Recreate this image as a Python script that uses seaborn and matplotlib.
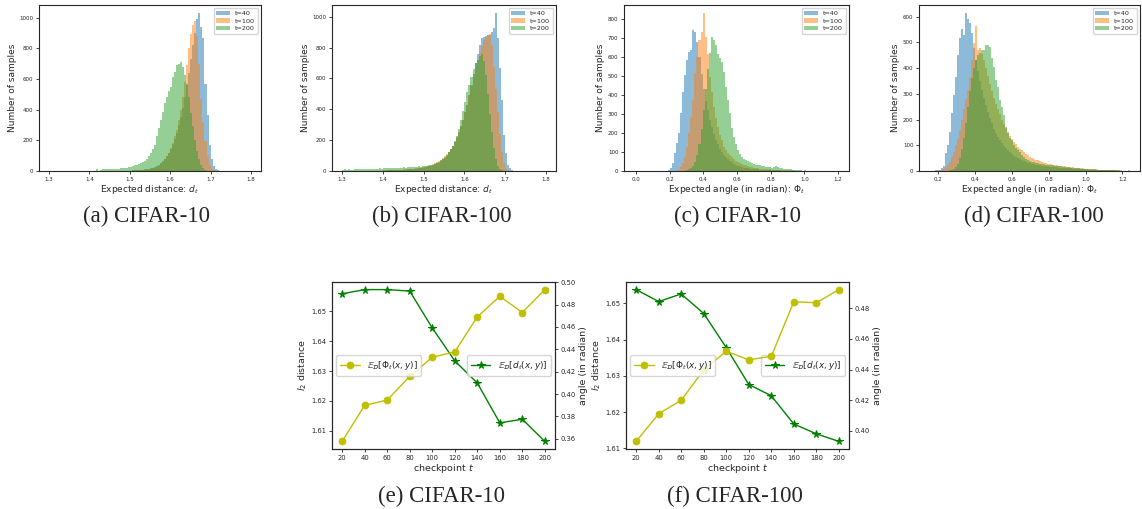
import numpy as np
import pandas as pd
import matplotlib
matplotlib.use("Agg")
import matplotlib.pyplot as plt
from matplotlib.ticker import MultipleLocator
import seaborn as sns

sns.set_style("ticks")
plt.rcParams['font.family'] = ['DejaVu Sans']
plt.rcParams['mathtext.fontset'] = 'dejavusans'
plt.rcParams['axes.edgecolor'] = '0.15'
plt.rcParams['axes.linewidth'] = 0.8

T_LABELS = ['t=40', 't=100', 't=200']
COLORS = ['C0', 'C1', 'C2']

# ---- histogram counts (each list starts at the given bin edge) ----
# (a) CIFAR-10, expected distance, bin width 0.005
DIST_W = 0.005
a_t40_from = 1.500
a_t40 = [3, 4, 4, 5, 6, 7, 8, 10, 12, 14,
         17, 21, 26, 32, 40, 50, 62, 78, 95, 118,
         145, 175, 210, 250, 300, 350, 410, 480, 560, 640,
         730, 820, 900, 990, 1030, 940, 865, 565, 365, 170,
         80, 33, 14, 5, 2]
a_t100_from = 1.500
a_t100 = [3, 3, 4, 4, 5, 6, 7, 8, 10, 12,
          15, 18, 22, 28, 35, 45, 58, 75, 95, 120,
          150, 185, 225, 270, 330, 400, 480, 580, 690, 800,
          890, 950, 975, 880, 700, 470, 320, 195, 95, 40,
          12, 4]
a_t200_from = 1.415
a_t200 = [15, 3, 5, 10, 12, 10, 12, 13, 12, 14,
          15, 14, 17, 18, 20, 22, 25, 28, 32, 36,
          40, 46, 52, 60, 68, 80, 95, 120, 145, 170,
          225, 278, 330, 387, 440, 485, 520, 550, 615, 648,
          690, 700, 713, 680, 626, 570, 480, 380, 290, 200,
          130, 75, 40, 20, 8, 3]

# (b) CIFAR-100, expected distance, bin width 0.005
b_t40_from = 1.400
b_t40 = [3, 3, 4, 4, 5, 5, 6, 6, 7, 7,
         8, 9, 10, 11, 12, 13, 15, 17, 19, 22,
         25, 28, 32, 36, 40, 46, 52, 60, 70, 80,
         92, 105, 120, 140, 160, 185, 215, 250, 290, 330,
         380, 430, 490, 560, 630, 700, 760, 820, 860, 870,
         875, 880, 880, 900, 930, 1025, 860, 665, 460, 233,
         115, 39, 17, 5, 2]
b_t100_from = 1.400
b_t100 = [4, 4, 5, 5, 6, 6, 7, 8, 8, 9,
          10, 11, 12, 13, 14, 16, 18, 20, 22, 25,
          28, 31, 35, 40, 45, 50, 56, 63, 72, 82,
          95, 110, 125, 145, 165, 190, 220, 250, 290, 330,
          380, 430, 490, 550, 610, 670, 720, 770, 810, 850,
          870, 880, 890, 820, 680, 530, 380, 240, 120, 50,
          15, 5]
b_t200_from = 1.300
b_t200 = [8, 10, 9, 10, 8, 9, 10, 11, 10, 12,
          11, 13, 14, 13, 15, 14, 16, 15, 17, 16,
          18, 17, 19, 18, 20, 19, 21, 20, 22, 21,
          23, 22, 25, 24, 26, 28, 27, 30, 29, 32,
          35, 30, 38, 35, 42, 45, 50, 55, 62, 75,
          85, 100, 120, 140, 165, 195, 230, 270, 330, 390,
          450, 510, 560, 610, 660, 700, 720, 745, 758, 710,
          620, 500, 370, 250, 150, 80, 35, 12, 4]

# (c) CIFAR-10, expected angle, bin width 0.012
ANG10_W = 0.012
c_t40_from = 0.180
c_t40 = [1, 5, 15, 40, 93, 146, 198, 304, 418, 505,
         584, 628, 637, 742, 733, 680, 600, 510, 430, 370,
         320, 270, 230, 195, 165, 140, 118, 100, 85, 72,
         62, 53, 45, 39, 33, 28, 24, 21, 18, 16,
         14, 12, 11, 10, 9, 8, 7, 6, 6, 5,
         5, 4, 4, 4, 3, 3, 3, 2, 2, 2,
         2, 1, 1, 1, 1, 1]
c_t100_from = 0.252
c_t100 = [10, 23, 40, 75, 128, 198, 286, 374, 514, 600,
          690, 733, 833, 707, 619, 496, 418, 339, 277, 233,
          190, 163, 128, 110, 95, 82, 72, 63, 55, 48,
          42, 37, 33, 29, 26, 23, 20, 18, 16, 14,
          13, 12, 11, 10, 9, 8, 7, 7, 6, 6,
          5, 5, 4, 4, 3, 3, 3, 2, 2, 2,
          1, 1, 1, 1, 1]
c_t200_from = 0.300
c_t200 = [3, 8, 15, 28, 50, 85, 140, 220, 320, 430,
          540, 620, 707, 690, 663, 619, 593, 575, 523, 444,
          374, 304, 225, 181, 140, 110, 90, 75, 65, 58,
          52, 45, 40, 37, 34, 32, 29, 26, 24, 22,
          21, 20, 18, 20, 24, 22, 18, 14, 12, 10,
          9, 8, 7, 6, 5, 4, 3, 2, 5, 1,
          1, 1, 0, 0, 0, 1, 0, 0, 0, 0,
          0, 0, 0, 0, 1]

# (d) CIFAR-100, expected angle, bin width 0.0109
ANG100_W = 0.0109
d_t40_from = 0.15 + 3 * 0.0109
d_t40 = [2, 3, 5, 10, 19, 69, 101, 153, 224, 295,
         367, 451, 516, 554, 528, 615, 593, 574, 535, 480,
         430, 390, 350, 315, 285, 255, 230, 205, 185, 165,
         148, 133, 120, 108, 98, 88, 80, 72, 66, 60,
         55, 50, 46, 42, 39, 36, 33, 31, 29, 27,
         25, 24, 22, 21, 20, 19, 18, 17, 16, 15,
         14, 13, 13, 12, 11, 11, 10, 10, 9, 9,
         8, 8, 7, 7, 6, 6, 5, 5, 5, 4,
         4, 4, 3, 3, 3, 3, 2, 2, 2, 2,
         1, 1, 1, 1, 1, 1, 2]
d_t100_from = 0.15 + 5 * 0.0109
d_t100 = [2, 4, 8, 15, 23, 35, 55, 75, 100, 130,
          160, 200, 240, 280, 315, 367, 431, 496, 563, 470,
          477, 457, 430, 400, 370, 340, 310, 285, 260, 240,
          220, 200, 182, 166, 150, 137, 125, 114, 104, 95,
          87, 80, 73, 67, 61, 56, 52, 48, 44, 41,
          38, 35, 33, 31, 29, 27, 25, 24, 22, 21,
          20, 19, 18, 17, 16, 15, 14, 13, 12, 11,
          10, 10, 9, 8, 8, 7, 7, 6, 6, 5,
          5, 4, 4, 4, 3, 3, 3, 2, 2, 2,
          2, 1, 1, 1, 1]
d_t200_from = 0.15 + 10 * 0.0109
d_t200 = [2, 4, 8, 15, 28, 50, 85, 130, 185, 250,
          310, 360, 400, 430, 450, 460, 470, 470, 490, 490,
          483, 438, 405, 354, 328, 276, 250, 218, 172, 146,
          130, 120, 100, 88, 82, 72, 62, 56, 48, 43,
          38, 36, 34, 32, 30, 29, 27, 26, 25, 24,
          23, 22, 21, 20, 19, 18, 17, 16, 15, 14,
          13, 12, 11, 10, 10, 9, 9, 8, 8, 7,
          7, 6, 6, 5, 5, 5, 4, 4, 4, 3,
          3, 3, 2, 2, 2, 1, 1, 1, 1, 1]

# ---- checkpoint curves ----
checkpoints = [20, 40, 60, 80, 100, 120, 140, 160, 180, 200]
e_dist = [1.6558, 1.6572, 1.6572, 1.6567, 1.6444, 1.6334, 1.6260, 1.6127, 1.6139, 1.6065]
e_angle = [0.3576, 0.3898, 0.3946, 0.4157, 0.4329, 0.4377, 0.4690, 0.4874, 0.4729, 0.4934]
f_dist = [1.6538, 1.6505, 1.6526, 1.6472, 1.6378, 1.6276, 1.6245, 1.6167, 1.6140, 1.6119]
f_angle = [0.3932, 0.4112, 0.4200, 0.4398, 0.4519, 0.4464, 0.4486, 0.4842, 0.4835, 0.4921]

W, H = 1142, 509
fig = plt.figure(figsize=(W / 100, H / 100), dpi=100)


def px_axes(left, top, right, bottom):
    return fig.add_axes([left / W, 1 - bottom / H, (right - left) / W, (bottom - top) / H])


def style_ticks(ax, size):
    ax.tick_params(labelsize=size, length=2.5, width=0.6, pad=1.5, colors='0.15')


def hist_panel(ax, width, series, xlim, xstep, ystep, xlabel):
    for (start, counts), lab, col in zip(series, T_LABELS, COLORS):
        counts = np.asarray(counts, float)
        edges = start + width * np.arange(len(counts) + 1)
        df = pd.DataFrame({'value': edges[:-1] + width / 2, 'count': counts})
        sns.histplot(data=df, x='value', weights='count', bins=list(edges), color=col,
                     alpha=0.5, linewidth=0, label=lab, ax=ax)
    ax.set_xlim(*xlim)
    ax.xaxis.set_major_locator(MultipleLocator(xstep))
    ax.yaxis.set_major_locator(MultipleLocator(ystep))
    ax.set_xlabel(xlabel, fontsize=6.5, labelpad=1)
    ax.set_ylabel('Number of samples', fontsize=6.5, labelpad=2)
    style_ticks(ax, 4.0)
    ax.legend(loc='upper right', fontsize=4.6, handlelength=2.2, borderpad=0.4,
              labelspacing=0.3, framealpha=0.8)


ax_a = px_axes(39, 5, 261, 171)
hist_panel(ax_a, DIST_W, [(a_t40_from, a_t40), (a_t100_from, a_t100), (a_t200_from, a_t200)],
           (1.275, 1.825), 0.1, 200, r'Expected distance: $d_t$')
ax_b = px_axes(332, 5, 556, 171)
hist_panel(ax_b, DIST_W, [(b_t40_from, b_t40), (b_t100_from, b_t100), (b_t200_from, b_t200)],
           (1.275, 1.825), 0.1, 200, r'Expected distance: $d_t$')
ax_c = px_axes(624, 5, 849, 171)
hist_panel(ax_c, ANG10_W, [(c_t40_from, c_t40), (c_t100_from, c_t100), (c_t200_from, c_t200)],
           (-0.07, 1.265), 0.2, 100, r'Expected angle (in radian): $\Phi_t$')
ax_d = px_axes(919, 5, 1140, 171)
hist_panel(ax_d, ANG100_W, [(d_t40_from, d_t40), (d_t100_from, d_t100), (d_t200_from, d_t200)],
           (0.096, 1.295), 0.2, 100, r'Expected angle (in radian): $\Phi_t$')


def curve_panel(ax, dist, angle, astep):
    ax2 = ax.twinx()
    sns.lineplot(x=checkpoints, y=dist, ax=ax, color='g', marker='*', markersize=5.5,
                 markeredgecolor='g', linewidth=1,
                 label=r'$\mathbb{E}_{\mathcal{D}}[d_t(x,y)]$')
    sns.lineplot(x=checkpoints, y=angle, ax=ax2, color='y', marker='o', markersize=4.8,
                 markeredgecolor='y', linewidth=1,
                 label=r'$\mathbb{E}_{\mathcal{D}}[\Phi_t(x,y)]$')
    ax.legend(loc='center right', fontsize=6.4, handlelength=2.2, borderpad=0.4)
    ax2.legend(loc='center left', fontsize=6.4, handlelength=2.2, borderpad=0.4)
    ax.set_xticks(checkpoints)
    ax.yaxis.set_major_locator(MultipleLocator(0.01))
    ax2.yaxis.set_major_locator(MultipleLocator(astep))
    ax.yaxis.set_major_formatter('{x:.2f}')
    ax2.yaxis.set_major_formatter('{x:.2f}')
    ax.set_xlabel(r'checkpoint $t$', fontsize=6.8, labelpad=1)
    ax.set_ylabel(r'$l_2$ distance', fontsize=6.8, labelpad=2)
    ax2.set_ylabel('angle (in radian)', fontsize=6.8, labelpad=2)
    style_ticks(ax, 4.9)
    style_ticks(ax2, 4.9)
    for s in ax2.spines.values():
        s.set_color('0.15')


ax_e = px_axes(332, 282, 555, 449)
curve_panel(ax_e, e_dist, e_angle, 0.02)
ax_f = px_axes(626, 282, 849, 449)
curve_panel(ax_f, f_dist, f_angle, 0.02)

caption_kw = dict(ha='center', va='center', fontsize=16.5, family=['Liberation Serif', 'DejaVu Serif'])
fig.text(146.5 / W, 1 - 216 / H, '(a) CIFAR-10', **caption_kw)
fig.text(442 / W, 1 - 216 / H, '(b) CIFAR-100', **caption_kw)
fig.text(738 / W, 1 - 216 / H, '(c) CIFAR-10', **caption_kw)
fig.text(1034 / W, 1 - 216 / H, '(d) CIFAR-100', **caption_kw)
fig.text(441.5 / W, 1 - 496 / H, '(e) CIFAR-10', **caption_kw)
fig.text(735 / W, 1 - 496 / H, '(f) CIFAR-100', **caption_kw)

fig.savefig('out.png', dpi=100)
